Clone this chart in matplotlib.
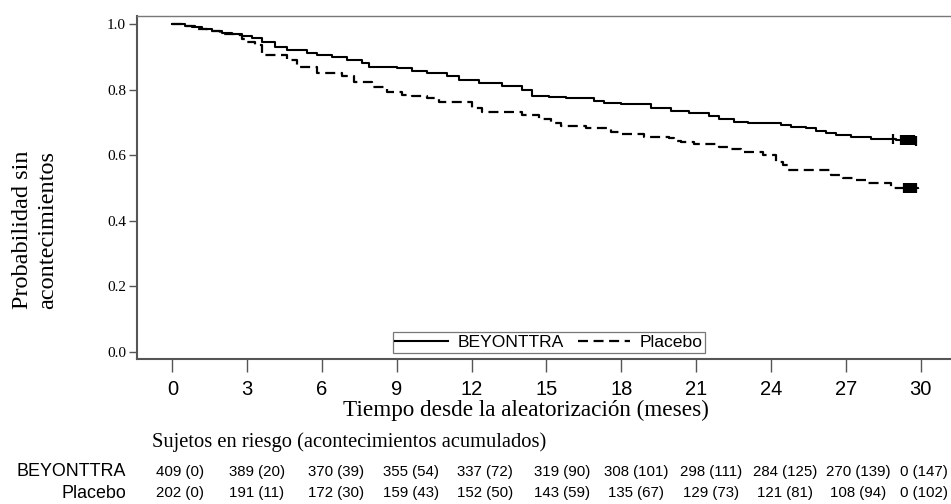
import matplotlib
matplotlib.use("Agg")
import matplotlib.pyplot as plt

# ---------------- data ----------------
beyonttra_t = [0, 0.5, 0.8, 1.2, 1.6, 2.0, 2.4, 2.8, 3.2, 3.6, 4.1, 4.6, 5.4, 5.8, 6.4, 7.0,
               7.6, 7.9, 9.0, 9.6, 10.2, 11.0, 11.5, 12.3, 13.2, 14.0, 14.4, 15.1, 15.8, 16.9,
               17.3, 18.0, 19.2, 20.0, 20.7, 21.5, 21.9, 22.5, 23.1, 24.4, 24.8, 25.4, 25.8,
               26.2, 26.6, 27.2, 28.0, 29.0, 29.8]
beyonttra_s = [1.0, 0.994, 0.99, 0.985, 0.978, 0.972, 0.968, 0.964, 0.957, 0.946, 0.931, 0.922,
               0.912, 0.906, 0.900, 0.890, 0.882, 0.870, 0.865, 0.858, 0.850, 0.841, 0.829, 0.821,
               0.811, 0.799, 0.780, 0.776, 0.773, 0.766, 0.760, 0.755, 0.743, 0.735, 0.728, 0.720,
               0.709, 0.702, 0.697, 0.692, 0.687, 0.682, 0.674, 0.669, 0.662, 0.656, 0.649, 0.646,
               0.642]
placebo_t = [0, 0.5, 0.9, 1.4, 1.9, 2.5, 2.8, 3.0, 3.3, 3.6, 4.6, 5.0, 5.8, 6.8, 7.3, 8.0, 8.6,
             9.2, 9.6, 10.2, 10.7, 12.0, 12.4, 14.0, 14.7, 15.2, 15.6, 16.6, 17.6, 18.0, 18.9,
             19.9, 20.1, 20.4, 20.9, 21.9, 22.3, 22.8, 23.7, 24.2, 24.5, 24.7, 26.4, 26.9, 27.4,
             27.8, 28.8, 29.9]
placebo_s = [1.0, 0.995, 0.985, 0.98, 0.97, 0.965, 0.955, 0.945, 0.935, 0.905, 0.89, 0.87, 0.85,
             0.84, 0.824, 0.809, 0.794, 0.785, 0.78, 0.773, 0.762, 0.743, 0.733, 0.723, 0.709,
             0.699, 0.689, 0.682, 0.672, 0.665, 0.656, 0.651, 0.644, 0.640, 0.634, 0.626, 0.618,
             0.611, 0.60, 0.58, 0.57, 0.555, 0.54, 0.531, 0.524, 0.514, 0.499, 0.497]
beyonttra_cens = [28.9, 29.2, 29.25, 29.3, 29.35, 29.4, 29.45, 29.5, 29.55, 29.6, 29.65, 29.7,
                  29.75, 29.8]
placebo_cens = [29.35, 29.4, 29.45, 29.5, 29.55, 29.6, 29.65, 29.7, 29.75, 29.8]

x_ticks = [0, 3, 6, 9, 12, 15, 18, 21, 24, 27, 30]
y_ticks = [0.0, 0.2, 0.4, 0.6, 0.8, 1.0]
risk_beyonttra = ["409 (0)", "389 (20)", "370 (39)", "355 (54)", "337 (72)", "319 (90)",
                  "308 (101)", "298 (111)", "284 (125)", "270 (139)", "0 (147)"]
risk_placebo = ["202 (0)", "191 (11)", "172 (30)", "159 (43)", "152 (50)", "143 (59)",
                "135 (67)", "129 (73)", "121 (81)", "108 (94)", "0 (102)"]

# ---------------- fonts ----------------
serif = "Liberation Serif"
sans = "Liberation Sans"

W, H = 951, 504
fig = plt.figure(figsize=(W / 100, H / 100), dpi=100)
ax = fig.add_axes([137 / W, 1 - 359 / H, (951 - 137) / W, (359 - 16) / H])

ax.step(beyonttra_t, beyonttra_s, where="post", color="black", lw=1.5, label="BEYONTTRA")
ax.step(placebo_t, placebo_s, where="post", color="black", lw=1.6,
        linestyle=(0, (4.5, 2.5)), label="Placebo")


def surv_at(ts, ss, t):
    v = ss[0]
    for ti, si in zip(ts, ss):
        if ti <= t:
            v = si
    return v


ax.plot(beyonttra_cens, [surv_at(beyonttra_t, beyonttra_s, c) for c in beyonttra_cens],
        ls="none", marker="|", ms=7, mew=1.6, color="black")
ax.plot(placebo_cens, [surv_at(placebo_t, placebo_s, c) for c in placebo_cens],
        ls="none", marker="|", ms=7, mew=1.6, color="black")

ax.set_xlim(-1.42, 31.22)
ax.set_ylim(-0.0213, 1.0244)
ax.set_xticks(x_ticks)
ax.set_yticks(y_ticks)
ax.set_xticklabels([str(v) for v in x_ticks], family=sans, fontsize=14.5)
ax.set_yticklabels([f"{v:.1f}" for v in y_ticks], family=serif, fontsize=11)
ax.tick_params(axis="x", direction="out", length=9, width=1, color="#555555", pad=6)
ax.tick_params(axis="y", direction="out", length=6, width=1, color="#555555", pad=2)

for side in ["left", "bottom"]:
    ax.spines[side].set_linewidth(1.5)
    ax.spines[side].set_color("#555555")
ax.spines["top"].set_linewidth(1.0)
ax.spines["top"].set_color("#777777")
ax.spines["right"].set_visible(False)

leg = ax.legend(loc="lower center", bbox_to_anchor=(0.506, 0.0175), ncol=2, frameon=True,
                fancybox=False, edgecolor="#555555", prop={"family": sans, "size": 12.6},
                handlelength=3.0, columnspacing=0.8, borderpad=0.15, handletextpad=0.55,
                borderaxespad=0)
leg.get_frame().set_linewidth(0.9)

fig.text(526 / W, 1 - 410 / H, "Tiempo desde la aleatorización (meses)", family=serif,
         fontsize=16.7, ha="center", va="center")
fig.text(35 / W, 1 - 230 / H, "Probabilidad sin\nacontecimientos", family=serif, fontsize=17.5,
         ha="center", va="center", rotation=90, linespacing=1.25)
fig.text(152 / W, 1 - 442 / H, "Sujetos en riesgo (acontecimientos acumulados)", family=serif,
         fontsize=14.8, ha="left", va="center")

fig.text(126 / W, 1 - 472 / H, "BEYONTTRA", family=sans, fontsize=12.9, ha="right",
         va="center")
fig.text(126 / W, 1 - 493 / H, "Placebo", family=sans, fontsize=12.9, ha="right", va="center")
offsets = [0.32, 0.38, 0.55, 0.55, 0.52, 0.62, 0.6, 0.6, 0.57, 0.5, 0.12]
for xt, off, a, b in zip(x_ticks, offsets, risk_beyonttra, risk_placebo):
    xd = ax.transData.transform((xt + off, 0))[0]
    xf = fig.transFigure.inverted().transform((xd, 0))[0]
    fig.text(xf, 1 - 472 / H, a, family=sans, fontsize=10.8, ha="center", va="center")
    fig.text(xf, 1 - 493 / H, b, family=sans, fontsize=10.8, ha="center", va="center")

fig.savefig("out.png", dpi=100)
